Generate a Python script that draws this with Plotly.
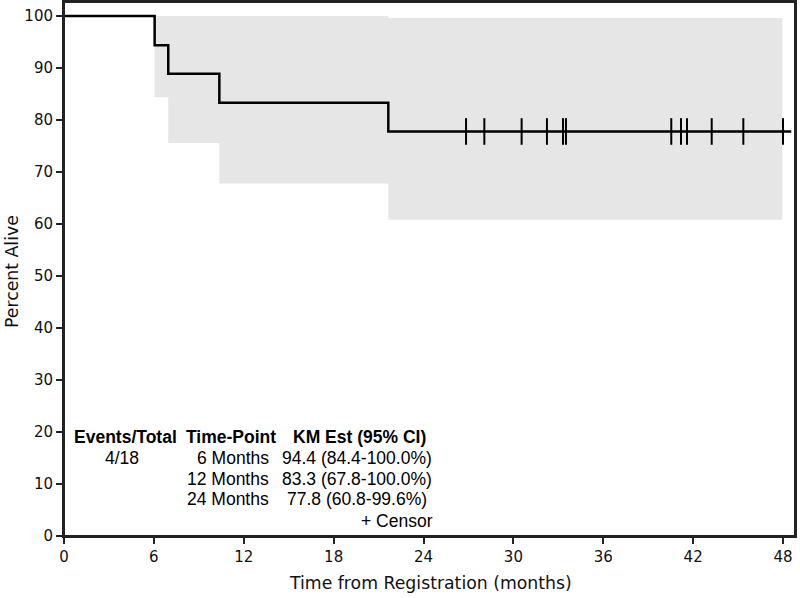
import plotly.graph_objects as go

# Kaplan-Meier step data
km_time = [0, 6.05, 6.96, 10.37, 21.65, 48.55]
km_surv = [100, 94.4, 88.9, 83.3, 77.8, 77.8]

# 95% CI band
ci_time = [6.05, 6.96, 10.37, 21.65, 47.95]
ci_upper = [100, 100, 100, 99.6, 99.6]
ci_lower = [84.4, 75.6, 67.8, 60.8, 60.8]

# Censored observations
censor_time = [26.84, 28.06, 30.55, 32.24, 33.31, 33.51, 40.54, 41.19, 41.59, 43.24, 45.35, 48.0]
censor_surv = [77.8] * len(censor_time)

x_ticks = [0, 6, 12, 18, 24, 30, 36, 42, 48]
y_ticks = [0, 10, 20, 30, 40, 50, 60, 70, 80, 90, 100]

table_header = ["Events/Total", "Time-Point", "KM Est (95% CI)"]
events_total = "4/18"
time_points = ["6 Months", "12 Months", "24 Months"]
km_estimates = ["94.4 (84.4-100.0%)", "83.3 (67.8-100.0%)", "77.8 (60.8-99.6%)"]

W, H = 800, 598
L, R, T, B = 64, 5, 2, 62

fig = go.Figure()
fig.add_trace(go.Scatter(x=ci_time, y=ci_upper, mode="lines", line=dict(width=0, shape="hv"),
                         hoverinfo="skip", showlegend=False))
fig.add_trace(go.Scatter(x=ci_time, y=ci_lower, mode="lines", line=dict(width=0, shape="hv"),
                         fill="tonexty", fillcolor="#e6e6e6", hoverinfo="skip", showlegend=False))
fig.add_trace(go.Scatter(x=km_time, y=km_surv, mode="lines", line=dict(color="black", width=2.5, shape="hv"),
                         showlegend=False))
fig.add_trace(go.Scatter(x=censor_time, y=censor_surv, mode="markers",
                         marker=dict(symbol="line-ns", size=19, line=dict(color="black", width=2)),
                         showlegend=False))

tfont = dict(family="Liberation Sans, Arial, sans-serif", size=17.5, color="black")

def px_x(px):
    return (px - L) / (W - L - R)
def px_y(py):
    return (H - B - py) / (H - B - T)

ann = []
ann.append(dict(x=px_x(125.5), y=px_y(437), text="<b>" + table_header[0] + "</b>", xanchor="center"))
ann.append(dict(x=px_x(231), y=px_y(437), text="<b>" + table_header[1] + "</b>", xanchor="center"))
ann.append(dict(x=px_x(359), y=px_y(437), text="<b>" + table_header[2] + "</b>", xanchor="center"))
ann.append(dict(x=px_x(122), y=px_y(457.5), text=events_total, xanchor="center"))
row_y = [457.5, 478.5, 499]
for tp, km, ry in zip(time_points, km_estimates, row_y):
    ann.append(dict(x=px_x(271), y=px_y(ry), text=tp, xanchor="right"))
    ann.append(dict(x=px_x(357), y=px_y(ry), text=km, xanchor="center"))
ann.append(dict(x=px_x(435), y=px_y(520.5), text="+ Censor", xanchor="right"))
for a in ann:
    a.update(xref="paper", yref="paper", showarrow=False, yanchor="middle", font=tfont)

# axis titles
ann.append(dict(x=px_x(430), y=px_y(583), xref="paper", yref="paper", showarrow=False,
                text="Time from Registration (months)", xanchor="center", yanchor="middle",
                font=dict(family="DejaVu Sans", size=17.3, color="#111")))
ann.append(dict(x=px_x(12), y=px_y(272), xref="paper", yref="paper", showarrow=False,
                text="Percent Alive", xanchor="center", yanchor="middle", textangle=-90,
                font=dict(family="DejaVu Sans", size=17.3, color="#111")))

fig.update_layout(
    width=W, height=H,
    margin=dict(l=L, r=R, t=T, b=B, autoexpand=False),
    paper_bgcolor="white", plot_bgcolor="white",
    annotations=ann,
    shapes=[dict(type="rect", xref="paper", yref="paper", x0=0, x1=1, y0=0, y1=1,
                 line=dict(color="#222", width=2), fillcolor="rgba(0,0,0,0)", layer="above")],
    font=dict(family="DejaVu Sans", color="black"),
    xaxis=dict(range=[0, 48.8], tickvals=x_ticks, ticks="outside", ticklen=6, tickwidth=1.5,
               tickcolor="#222", showline=True, linecolor="#222", linewidth=2, mirror=True,
               showgrid=False, zeroline=False, automargin=False,
               tickfont=dict(size=15, family="DejaVu Sans", color="#111")),
    yaxis=dict(range=[0, 102.7], tickvals=y_ticks, ticks="outside", ticklen=6, tickwidth=1.5,
               tickcolor="#222", showline=True, linecolor="#222", linewidth=2, mirror=True,
               showgrid=False, zeroline=False, automargin=False,
               tickfont=dict(size=15, family="DejaVu Sans", color="#111")),
)

fig.write_html("out.html", config={"displayModeBar": False},
               post_script="document.body.style.margin='0';document.body.style.overflow='hidden';")
